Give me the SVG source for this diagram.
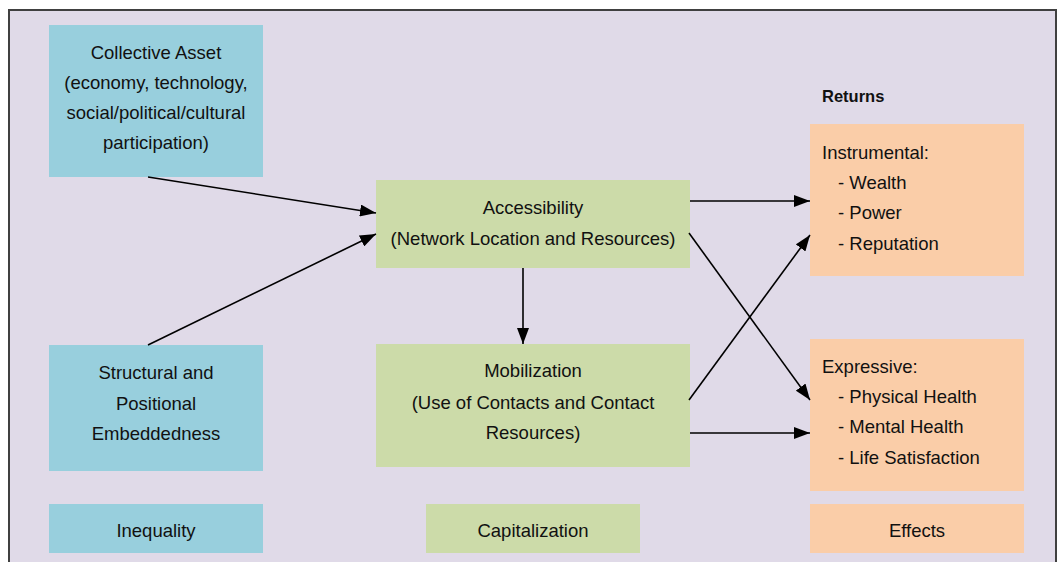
<svg xmlns="http://www.w3.org/2000/svg" width="1057" height="562" viewBox="0 0 1057 562">
<style>
text{font-family:"Liberation Sans",Arial,sans-serif;font-size:18.5px;fill:#111}
.c{text-anchor:middle}
.b{font-weight:bold;font-size:16.5px}
.blue{fill:#98CFDD}
.green{fill:#CCDBA9}
.orange{fill:#FACDA8}
.conn line{stroke:#000;stroke-width:1.6;marker-end:url(#ah)}
</style>
<defs>
<marker id="ah" markerUnits="userSpaceOnUse" markerWidth="16" markerHeight="12" refX="16" refY="6" orient="auto">
<path d="M0,0 L16,6 L0,12 z" fill="#000"/>
</marker>
</defs>
<rect x="0" y="0" width="1057" height="562" fill="#fff"/>
<rect x="9" y="10" width="1047" height="560" fill="#E0DAE8" stroke="#404040" stroke-width="2"/>

<g id="collective-asset">
<rect class="blue" x="49" y="25" width="214" height="152"/>
<text class="c" x="156" y="59">Collective Asset</text>
<text class="c" x="156" y="89">(economy, technology,</text>
<text class="c" x="156" y="119">social/political/cultural</text>
<text class="c" x="156" y="149">participation)</text>
</g>
<g id="structural">
<rect class="blue" x="49" y="345" width="214" height="126"/>
<text class="c" x="156" y="379">Structural and</text>
<text class="c" x="156" y="410">Positional</text>
<text class="c" x="156" y="440">Embeddedness</text>
</g>
<g id="inequality">
<rect class="blue" x="49" y="504" width="214" height="49"/>
<text class="c" x="156" y="537">Inequality</text>
</g>
<g id="accessibility">
<rect class="green" x="376" y="180" width="314" height="88"/>
<text class="c" x="533" y="214">Accessibility</text>
<text class="c" x="533" y="245">(Network Location and Resources)</text>
</g>
<g id="mobilization">
<rect class="green" x="376" y="344" width="314" height="123"/>
<text class="c" x="533" y="377">Mobilization</text>
<text class="c" x="533" y="409">(Use of Contacts and Contact</text>
<text class="c" x="533" y="439">Resources)</text>
</g>
<g id="capitalization">
<rect class="green" x="426" y="504" width="214" height="49"/>
<text class="c" x="533" y="537">Capitalization</text>
</g>
<g id="returns-label">
<text class="b" x="822" y="102">Returns</text>
</g>
<g id="instrumental">
<rect class="orange" x="810" y="124" width="214" height="152"/>
<text x="822" y="159">Instrumental:</text>
<text x="838" y="189">- Wealth</text>
<text x="838" y="219">- Power</text>
<text x="838" y="250">- Reputation</text>
</g>
<g id="expressive">
<rect class="orange" x="810" y="339" width="214" height="152"/>
<text x="822" y="373">Expressive:</text>
<text x="838" y="403">- Physical Health</text>
<text x="838" y="433">- Mental Health</text>
<text x="838" y="464">- Life Satisfaction</text>
</g>
<g id="effects">
<rect class="orange" x="810" y="504" width="214" height="49"/>
<text class="c" x="917" y="537">Effects</text>
</g>

<g id="connectors" class="conn">
<line x1="148" y1="177" x2="376" y2="213"/>
<line x1="148" y1="345" x2="376" y2="234"/>
<line x1="690" y1="201" x2="810" y2="201"/>
<line x1="689" y1="233" x2="810" y2="400"/>
<line x1="689" y1="400" x2="810" y2="235"/>
<line x1="690" y1="433" x2="810" y2="433"/>
<line x1="523" y1="268" x2="523" y2="344"/>
</g>
</svg>
